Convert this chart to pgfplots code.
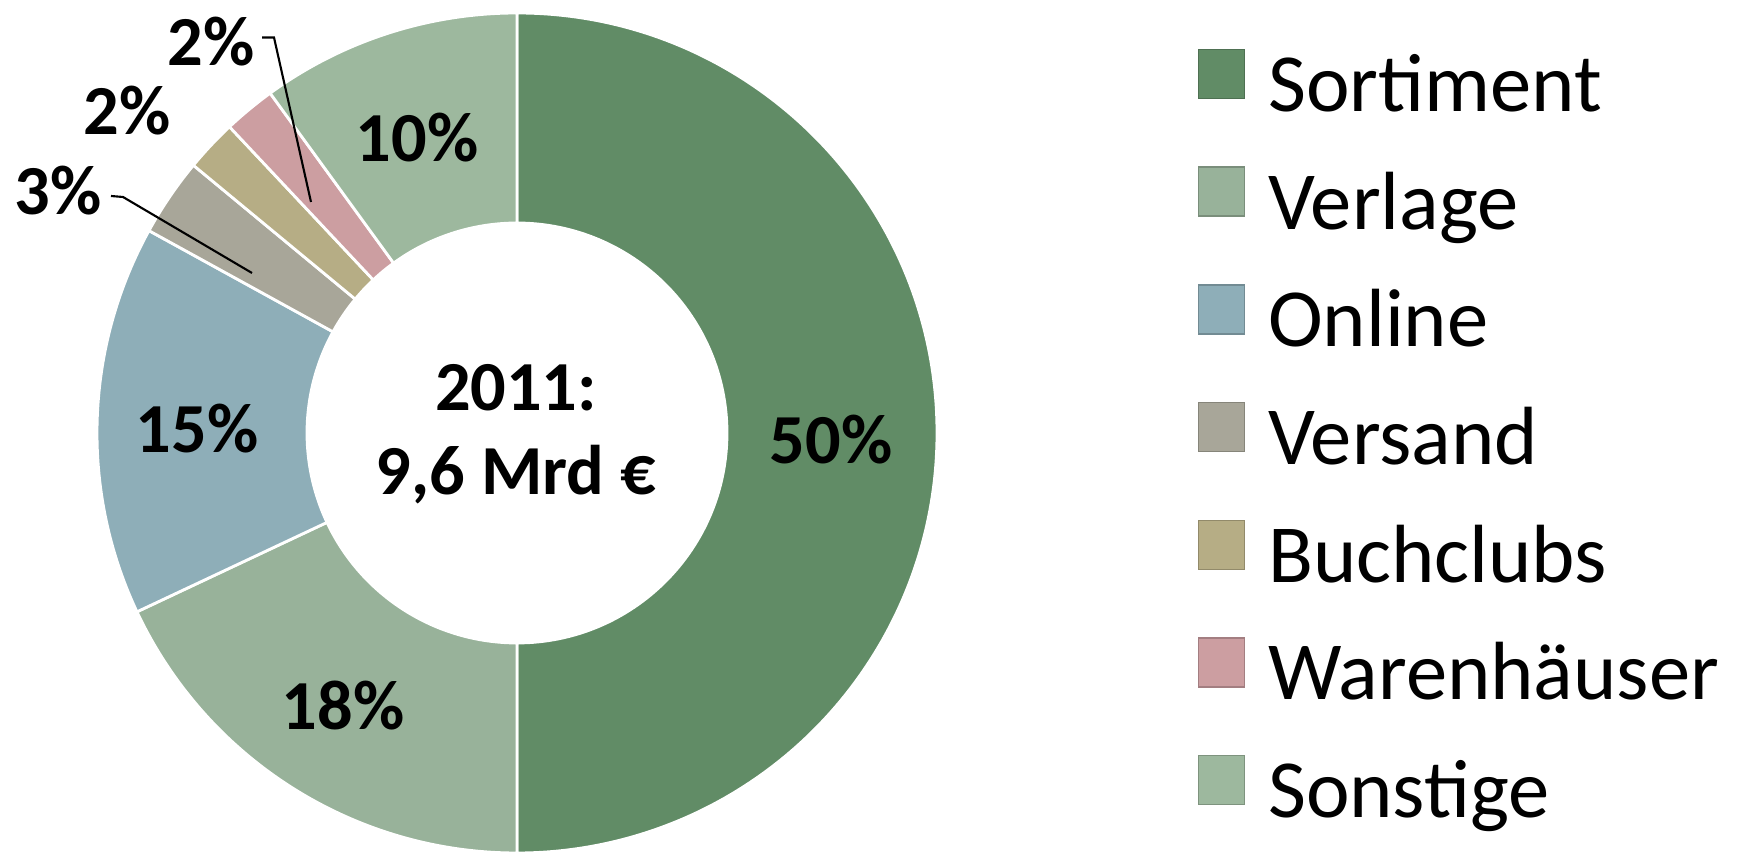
\documentclass[border=0pt]{standalone}
\usepackage{pgfplots}
\usepackage{pgfplotstable}
\pgfplotsset{compat=1.18}
\usepackage{fontspec}
\setmainfont{Carlito}

\definecolor{cSort}{HTML}{618C66}
\definecolor{cVerl}{HTML}{98B29A}
\definecolor{cOnl}{HTML}{8EAEB8}
\definecolor{cVers}{HTML}{A8A699}
\definecolor{cBuch}{HTML}{B6AD85}
\definecolor{cWar}{HTML}{CC9EA1}
\definecolor{cSon}{HTML}{9DB89E}
\newcommand\lbl{\fontsize{20}{24}\selectfont\bfseries}

% shares in %, clockwise from 12 o'clock; lx/ly = label position
\pgfplotstableread{
name value fillc lx ly
Sortiment 50 cSort 8.31 4.17
Verlage 18 cVerl 3.43 1.51
Online 15 cOnl 1.97 4.28
Versand 3 cVers 0.58 6.66
Buchclubs 2 cBuch 1.27 7.46
Warenhäuser 2 cWar 2.11 8.15
Sonstige 10 cSon 4.17 7.19
}\shares

\def\acc{90}
\pgfplotsforeachungrouped \i in {0,...,6}{%
  \pgfplotstablegetelem{\i}{value}\of\shares\let\v\pgfplotsretval
  \pgfmathsetmacro\e{\acc-3.6*\v}%
  \expandafter\xdef\csname sa\i\endcsname{\acc}%
  \expandafter\xdef\csname ea\i\endcsname{\e}%
  \expandafter\xdef\csname pv\i\endcsname{\v}%
  \xdef\acc{\e}%
  \pgfplotstablegetelem{\i}{fillc}\of\shares\colorlet{seg\i}{\pgfplotsretval}%
  \pgfplotstablegetelem{\i}{name}\of\shares\expandafter\xdef\csname nm\i\endcsname{\pgfplotsretval}%
  \pgfplotstablegetelem{\i}{lx}\of\shares\expandafter\xdef\csname lx\i\endcsname{\pgfplotsretval}%
  \pgfplotstablegetelem{\i}{ly}\of\shares\expandafter\xdef\csname ly\i\endcsname{\pgfplotsretval}%
}

\begin{document}
\begin{tikzpicture}
\begin{axis}[x=1cm,y=1cm,xmin=0,xmax=17.37,ymin=0,ymax=8.57,hide axis,clip=false,
 legend image code/.code={\draw[#1] (0cm,-0.03cm) rectangle (0.46cm,0.46cm);},
 legend cell align=left,
 legend style={draw=none,fill=none,inner sep=0pt,at={(axis cs:11.97,8.09)},anchor=north west,
   font=\fontsize{23.5}{28}\selectfont,
   nodes={inner xsep=0pt,inner ysep=0pt,text height=0.62cm,text depth=0.3cm},
   row sep=0.25cm,
   /tikz/every odd column/.append style={column sep=0.23cm}}]
\path (axis cs:0,0) rectangle (axis cs:17.37,8.57);
\pgfplotsinvokeforeach{0,...,6}{
  \fill[seg#1,draw=white,line width=0.8pt]
    (axis cs:5.17,4.24) ++(\csname sa#1\endcsname:4.2cm)
    arc[start angle=\csname sa#1\endcsname,end angle=\csname ea#1\endcsname,radius=4.2cm]
    -- ++(\csname ea#1\endcsname:-2.1cm)
    arc[start angle=\csname ea#1\endcsname,end angle=\csname sa#1\endcsname,radius=2.1cm]
    -- cycle;
  \node[font=\lbl] at (axis cs:\csname lx#1\endcsname,\csname ly#1\endcsname) {\csname pv#1\endcsname\%};
  \addlegendimage{fill=seg#1,draw=seg#1!80!black}
  \addlegendentry{\csname nm#1\endcsname}
}
\draw[line width=0.6pt] (axis cs:1.11,6.61) -- (axis cs:1.23,6.60) -- (axis cs:2.52,5.84);
\draw[line width=0.6pt] (axis cs:2.62,8.195) -- (axis cs:2.74,8.195) -- (axis cs:3.11,6.55);
\node[font=\lbl,align=center,text depth=0pt] at (axis cs:5.16,4.275) {\fontsize{20}{23.6}\selectfont 2011:\\9,6 Mrd €};
\end{axis}
\end{tikzpicture}
\end{document}
